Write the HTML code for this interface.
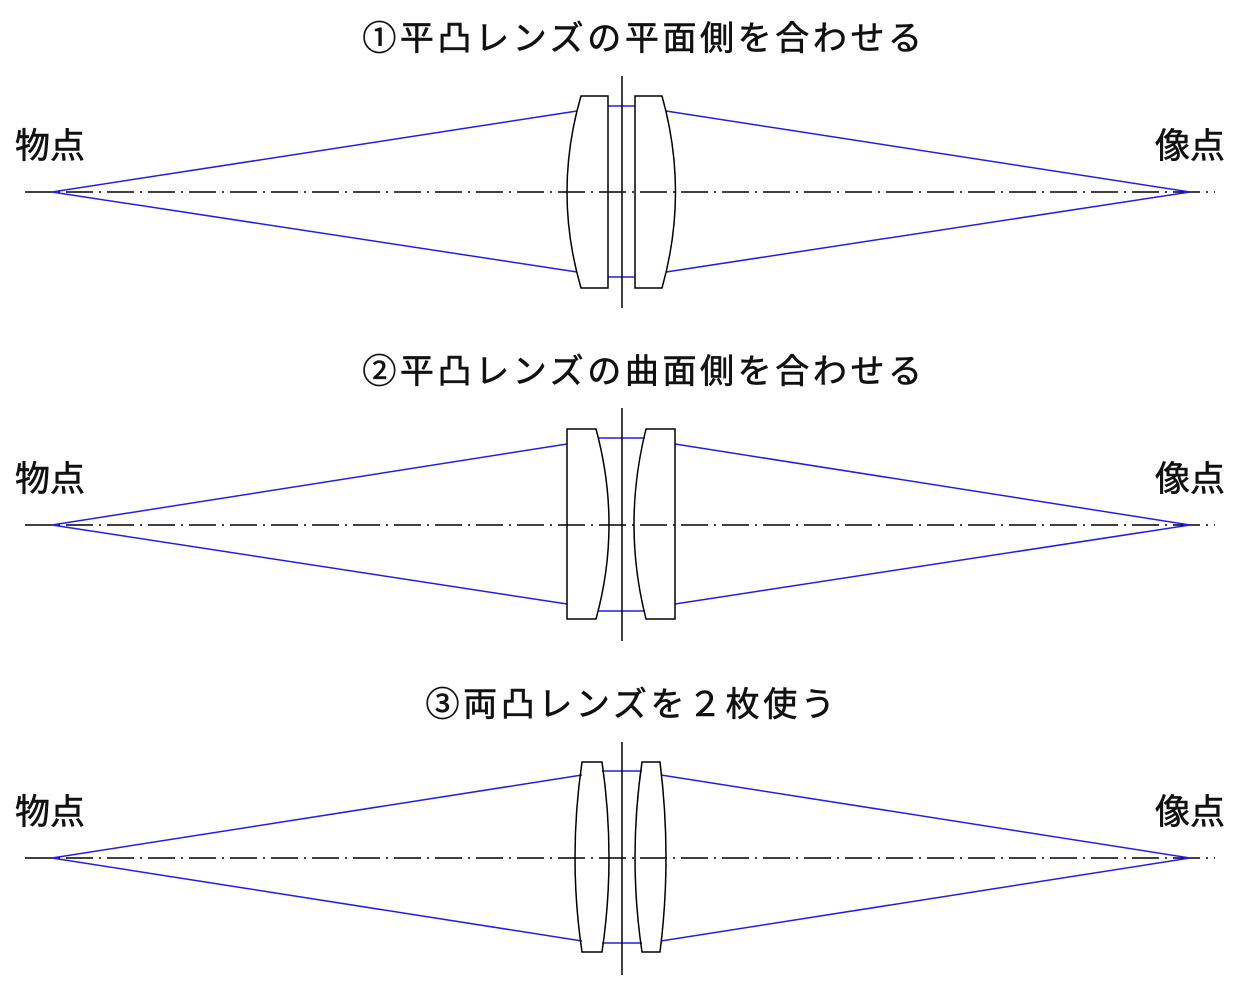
<!DOCTYPE html>
<html><head><meta charset="utf-8"><style>
html,body{margin:0;padding:0;background:#fff;}
svg{display:block;}
text{font-family:"Liberation Sans","Noto Sans CJK JP",sans-serif;fill:#111;stroke:#111;stroke-width:0.6;}
</style></head><body>
<svg width="1247" height="996" viewBox="0 0 1247 996" xmlns="http://www.w3.org/2000/svg">
<g font-size="34" letter-spacing="3.6" text-anchor="middle">
<text x="644" y="50">①平凸レンズの平面側を合わせる</text>
<text x="644" y="383">②平凸レンズの曲面側を合わせる</text>
<text x="632" y="716">③両凸レンズを２枚使う</text>
</g>
<g font-size="35">
<text x="15" y="158">物点</text><text x="1155" y="158">像点</text>
<text x="15" y="491">物点</text><text x="1155" y="491">像点</text>
<text x="15" y="824">物点</text><text x="1155" y="824">像点</text>
</g>
<g stroke="#000" stroke-width="1.5" fill="none" stroke-dasharray="27 6 2 6">
<line x1="25" y1="192" x2="1215" y2="192"/>
<line x1="25" y1="525" x2="1215" y2="525"/>
<line x1="25" y1="858" x2="1215" y2="858"/>
</g>
<g stroke="#2020e0" stroke-width="1.5" fill="none">
<polyline points="577,111 52,192 577,272"/>
<polyline points="666,111 1190,192 666,272"/>
<line x1="608" y1="106" x2="635" y2="106"/><line x1="608" y1="277" x2="635" y2="277"/>
<polyline points="567,444 52,525 567,604"/>
<polyline points="675,444 1190,525 675,604"/>
<line x1="598" y1="438" x2="645" y2="438"/><line x1="598" y1="611" x2="645" y2="611"/>
<polyline points="582,775 52,858 582,941"/>
<polyline points="661,775 1190,858 661,941"/>
<line x1="602" y1="771" x2="642" y2="771"/><line x1="602" y1="943" x2="642" y2="943"/>
</g>
<g stroke="#000" stroke-width="1.5" fill="none">
<line x1="622" y1="76" x2="622" y2="308"/>
<line x1="622" y1="408" x2="622" y2="641"/>
<line x1="622" y1="742" x2="622" y2="975"/>
<path d="M581,96 L608,96 L608,288 L581,288 Q553,192 581,96 Z"/>
<path d="M635,96 L662,96 Q689,192 662,288 L635,288 Z"/>
<path d="M567,429 L596,429 Q622,525 596,619 L567,619 Z"/>
<path d="M675,429 L646,429 Q622,525 646,619 L675,619 Z"/>
<path d="M582,762 L602,762 Q616,858 602,952 L582,952 Q568,858 582,762 Z"/>
<path d="M642,762 L660,762 Q672,858 660,952 L642,952 Q628,858 642,762 Z"/>
</g>
</svg>
</body></html>
